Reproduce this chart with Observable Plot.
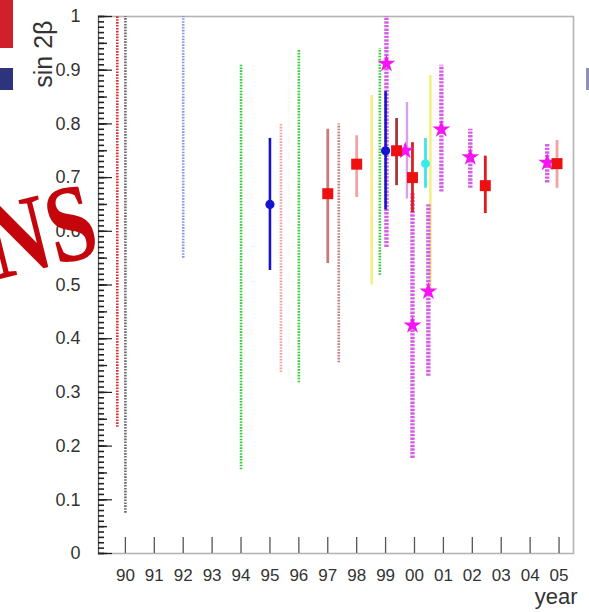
<!DOCTYPE html>
<html>
<head>
<meta charset="utf-8">
<script src="https://cdn.jsdelivr.net/npm/d3@7"></script>
<script src="https://cdn.jsdelivr.net/npm/@observablehq/plot@0.6"></script>
<style>
  html, body { margin: 0; padding: 0; background: #fff; }
  #wrap { position: relative; width: 589px; height: 612px; overflow: hidden; }
  #chart svg { display: block; }
  .deco { position: absolute; }
  #slideText {
    position: absolute; left: -193px; top: 161px; width: 300px;
    text-align: right; white-space: nowrap; line-height: 1;
    font-family: "Liberation Serif", "DejaVu Serif", serif; font-weight: bold;
    font-size: 110px; color: #c4060c;
    transform-origin: right bottom; transform: rotate(-14deg) scaleX(0.78);
  }
</style>
</head>
<body>
<div id="wrap">
  <div id="chart"></div>
  <div class="deco" style="left:0;top:0;width:13px;height:48px;background:#d0202a;"></div>
  <div class="deco" style="left:0;top:68px;width:13px;height:22px;background:#2c347e;"></div>
  <div class="deco" style="left:586px;top:68px;width:3px;height:22px;background:#8c90bc;"></div>
  <div id="slideText">IONS</div>
</div>
<script>
// ---- axis ticks and labels ----
const yearTicks  = [90, 91, 92, 93, 94, 95, 96, 97, 98, 99, 100, 101, 102, 103, 104, 105];
const yearLabels = ["90","91","92","93","94","95","96","97","98","99","00","01","02","03","04","05"];
const yTicks      = [0, 0.1, 0.2, 0.3, 0.4, 0.5, 0.6, 0.7, 0.8, 0.9, 1];
const yTickLabels = ["0","0.1","0.2","0.3","0.4","0.5","0.6","0.7","0.8","0.9","1"];

// ---- dotted constraint ranges (no central value) ----
const bandYear = [89.72, 90.0, 92.0, 94.0, 95.38, 96.0, 97.38, 98.8];
const bandLow  = [0.235, 0.075, 0.55, 0.156, 0.337, 0.318, 0.355, 0.518];
const bandHigh = [1.0, 1.0, 1.0, 0.909, 0.799, 0.937, 0.80, 0.94];
const bandKind = ["red", "grey", "lilac", "green", "pink", "green", "rose", "green"];

// ---- solid ranges without marker ----
const rangeYear = [98.52, 100.55];
const rangeLow  = [0.50, 0.49];
const rangeHigh = [0.853, 0.89];

// ---- blue circles ----
const blueYear = [95.0, 99.0];
const blueVal  = [0.65, 0.75];
const blueLow  = [0.527, 0.64];
const blueHigh = [0.773, 0.86];

// ---- red squares ----
const redYear = [97.0, 98.0, 99.38, 99.93, 102.45, 104.93];
const redVal  = [0.67, 0.725, 0.75, 0.70, 0.685, 0.726];
const redLow  = [0.54, 0.663, 0.685, 0.635, 0.633, 0.68];
const redHigh = [0.79, 0.778, 0.81, 0.765, 0.74, 0.769];
const redBarKind = ["muted", "light", "dark", "bright", "bright", "light"];

// ---- magenta stars ----
const starYear = [99.03, 99.68, 99.93, 100.48, 100.93, 101.93, 104.59];
const starVal  = [0.912, 0.75, 0.425, 0.488, 0.79, 0.738, 0.728];
const starLow  = [0.57, 0.66, 0.177, 0.33, 0.673, 0.68, 0.69];
const starHigh = [1.0, 0.84, 0.67, 0.65, 0.909, 0.79, 0.763];
const starBarKind = ["dotted", "solid", "dotted", "dotted", "dotted", "dotted", "dotted"];

// ---- cyan circle ----
const cyanYear = [100.38];
const cyanVal  = [0.726];
const cyanLow  = [0.68];
const cyanHigh = [0.773];

// ---- palette (styles) ----
const palette = {
  red: "#dc3030", grey: "#6a6a6a", lilac: "#9494e4", green: "#36cc36",
  pink: "#f2a0a0", rose: "#c47c7c",
  muted: "#c87a7a", light: "#f2a2a2", dark: "#a8363a", bright: "#e01c1c"
};

const bands  = bandYear.map((year, i) => ({year, low: bandLow[i], high: bandHigh[i], kind: bandKind[i]}));
const ranges = rangeYear.map((year, i) => ({year, low: rangeLow[i], high: rangeHigh[i]}));
const blues  = blueYear.map((year, i) => ({year, val: blueVal[i], low: blueLow[i], high: blueHigh[i]}));
const reds   = redYear.map((year, i) => ({year, val: redVal[i], low: redLow[i], high: redHigh[i], kind: redBarKind[i]}));
const stars  = starYear.map((year, i) => ({year, val: starVal[i], low: starLow[i], high: starHigh[i], kind: starBarKind[i]}));
const cyans  = cyanYear.map((year, i) => ({year, val: cyanVal[i], low: cyanLow[i], high: cyanHigh[i]}));

const minorTicks  = d3.range(0, 101).map(i => i / 100);
const mediumTicks = d3.range(0, 21).map(i => i / 20);

const chart = Plot.plot({
  width: 589,
  height: 612,
  marginLeft: 98,
  marginRight: 16,
  marginTop: 16,
  marginBottom: 59,
  x: {domain: [89.07, 105.5]},
  y: {domain: [0, 1]},
  color: {type: "identity"},
  style: {background: "#fff", fontFamily: "'Liberation Sans', Arial, sans-serif", color: "#333"},
  marks: [
    Plot.frame({stroke: "#b4b4b4", strokeWidth: 1.6}),
    Plot.frame({anchor: "left", stroke: "#555", strokeWidth: 1}),
    // y ticks pointing inward
    Plot.axisY({ticks: minorTicks, tickSize: 6, dx: 6, tickFormat: () => "", label: null, stroke: "#222", strokeWidth: 1.6}),
    Plot.axisY({ticks: mediumTicks, tickSize: 9, dx: 9, tickFormat: () => "", label: null, stroke: "#222", strokeWidth: 1.4}),
    Plot.axisY({ticks: yTicks, tickSize: 14, dx: 14, tickFormat: () => "", label: null, stroke: "#222", strokeWidth: 1.2}),
    Plot.axisY({ticks: yTicks, tickSize: 0, tickPadding: 18, tickFormat: (d, i) => yTickLabels[i], label: null, fontSize: 18, fill: "#333"}),
    // x ticks pointing inward
    Plot.axisX({ticks: yearTicks, tickSize: 16, dy: -16, tickFormat: () => "", label: null, stroke: "#555", strokeWidth: 1.3}),
    Plot.axisX({ticks: yearTicks, tickSize: 0, tickPadding: 15, tickFormat: (d, i) => yearLabels[i], label: null, fontSize: 17, fill: "#333"}),
    // axis titles
    Plot.text(["sin 2β"], {frameAnchor: "top-left", rotate: -90, textAnchor: "end", lineAnchor: "bottom", dx: -47, dy: 4, fontSize: 25, fill: "#333"}),
    Plot.text(["year"], {frameAnchor: "bottom-right", textAnchor: "end", lineAnchor: "bottom", dx: 4, dy: 50, fontSize: 22, fill: "#333"}),
    // dotted constraint ranges
    Plot.ruleX(bands, {x: "year", y1: "low", y2: "high", stroke: d => palette[d.kind], strokeWidth: 2.6, strokeDasharray: "1.6,1.3"}),
    // plain yellow ranges
    Plot.ruleX(ranges, {x: "year", y1: "low", y2: "high", stroke: "#f6ee84", strokeWidth: 2.6}),
    // magenta ranges
    Plot.ruleX(stars.filter(d => d.kind === "dotted"), {x: "year", y1: "low", y2: "high", stroke: "#d262e2", strokeWidth: 4.4, strokeDasharray: "2.4,1.2"}),
    Plot.ruleX(stars.filter(d => d.kind === "solid"), {x: d => d.year + 0.06, y1: "low", y2: "high", stroke: "#d8a2e8", strokeWidth: 2.4}),
    // blue
    Plot.ruleX(blues, {x: "year", y1: "low", y2: "high", stroke: "#1616c8", strokeWidth: 2.6}),
    // red bars
    Plot.ruleX(reds, {x: "year", y1: "low", y2: "high", stroke: d => palette[d.kind], strokeWidth: 2.8}),
    // cyan
    Plot.ruleX(cyans, {x: "year", y1: "low", y2: "high", stroke: "#3ee6ea", strokeWidth: 2.8}),
    // markers
    Plot.dot(blues, {x: "year", y: "val", r: 4.6, fill: "#1414d2", stroke: "none"}),
    Plot.dot(cyans, {x: "year", y: "val", r: 4.4, fill: "#38eaee", stroke: "none"}),
    Plot.dot(stars, {x: "year", y: "val", symbol: "star", r: 5.6, fill: "#f614f4", stroke: "none"}),
    Plot.dot(reds, {x: "year", y: "val", symbol: "square", r: 6.2, fill: "#ee1010", stroke: "none"})
  ]
});
document.getElementById("chart").appendChild(chart);
</script>
</body>
</html>
